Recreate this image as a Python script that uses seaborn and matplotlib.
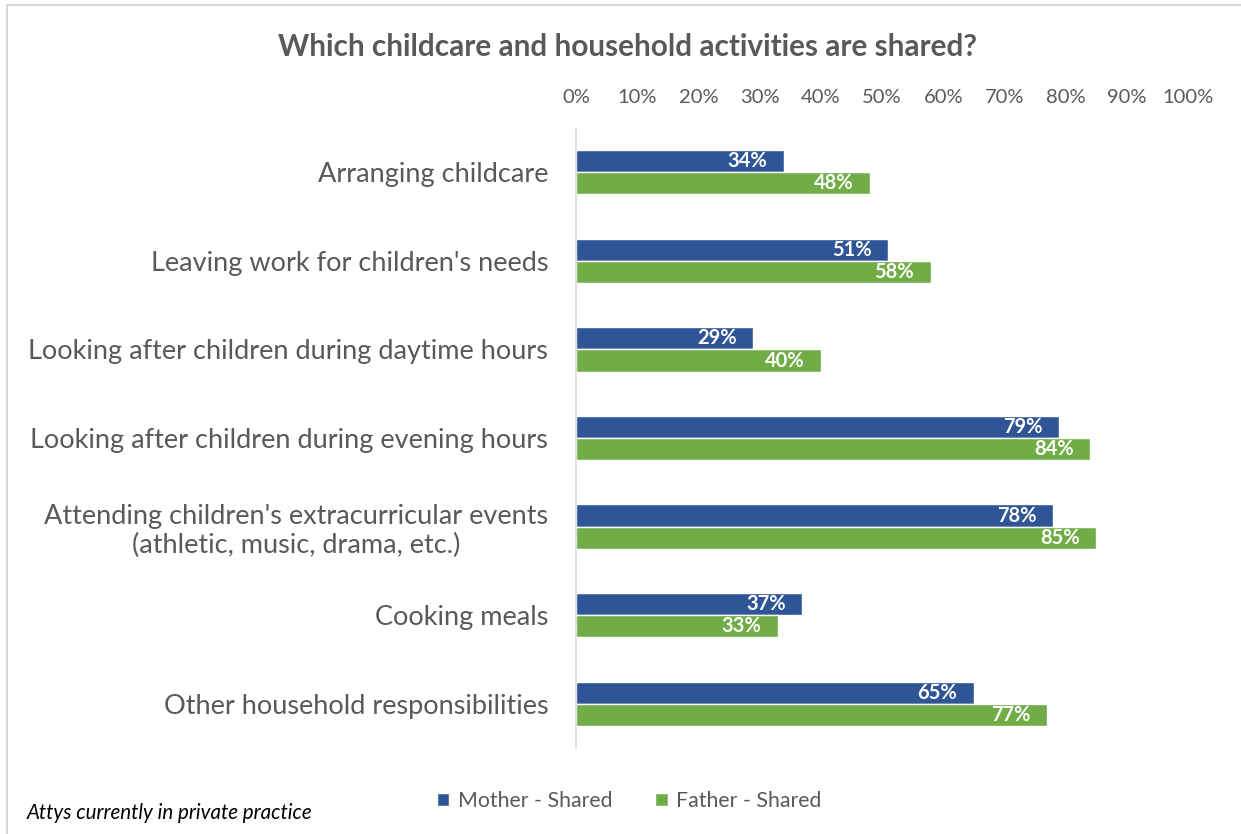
import matplotlib
matplotlib.use("Agg")
import matplotlib.pyplot as plt
from matplotlib.patches import Rectangle
import seaborn as sns
import pandas as pd

activities = [
    "Arranging childcare",
    "Leaving work for children's needs",
    "Looking after children during daytime hours",
    "Looking after children during evening hours",
    "Attending children's extracurricular events\n(athletic, music, drama, etc.)",
    "Cooking meals",
    "Other household responsibilities",
]
mother_shared = [34, 51, 29, 79, 78, 37, 65]
father_shared = [48, 58, 40, 84, 85, 33, 77]
series_names = ["Mother - Shared", "Father - Shared"]
tick_values = [0, 10, 20, 30, 40, 50, 60, 70, 80, 90, 100]

df = pd.DataFrame({
    "activity": activities * 2,
    "value": mother_shared + father_shared,
    "series": [series_names[0]] * len(activities) + [series_names[1]] * len(activities),
})

sns.set_theme(style="white")
plt.rcParams["font.family"] = ["Lato", "DejaVu Sans"]

GRAY = "#595959"
BLUE = "#2F5597"
GREEN = "#70AD47"

fig = plt.figure(figsize=(12.41, 8.34), dpi=100)
ax = fig.add_axes([576 / 1241, 1 - 748 / 834, (1188 - 576) / 1241, (748 - 128) / 834])

sns.barplot(data=df, y="activity", x="value", hue="series", orient="h",
            palette=[BLUE, GREEN], width=0.5, dodge=True, ax=ax,
            saturation=1, legend=True)

for container in ax.containers:
    labels = [f"{v:.0f}%" for v in container.datavalues]
    ax.bar_label(container, labels=labels, label_type="edge", padding=-12,
                 color="white", fontweight="bold", fontsize=14.5)
    for txt in ax.texts[-len(labels):]:
        txt.set_ha("right")

ax.set_xlim(0, 100)
ax.set_ylim(6.5, -0.5)
ax.set_xticks(tick_values)
ax.set_xticklabels([f"{t}%" for t in tick_values])
ax.xaxis.tick_top()
ax.tick_params(axis="x", length=0, pad=16, labelsize=14.5, labelcolor=GRAY)
ax.tick_params(axis="y", length=0, pad=20, labelsize=19.5, labelcolor=GRAY)
ax.set_xlabel("")
ax.set_ylabel("")
for side in ["top", "right", "bottom"]:
    ax.spines[side].set_visible(False)
ax.spines["left"].set_color("#D9D9D9")
ax.spines["left"].set_linewidth(1.2)
for lbl in ax.get_yticklabels():
    lbl.set_multialignment("center")

handles, lbls = ax.get_legend_handles_labels()
ax.legend_.remove()
fig.legend(handles, lbls, loc="center", bbox_to_anchor=(629 / 1241, 1 - 801 / 834),
           ncol=2, frameon=False, fontsize=15.3, labelcolor=GRAY,
           handlelength=0.6, handleheight=0.6, handletextpad=0.4, columnspacing=2.0)

fig.text(627 / 1241, 1 - 47 / 834, "Which childcare and household activities are shared?",
         ha="center", va="center", fontsize=21.4, fontweight="bold", color=GRAY)
fig.text(27 / 1241, 1 - 813 / 834, "Attys currently in private practice",
         ha="left", va="center", fontsize=14.8, style="italic", color="black")

# chart frame
fig.add_artist(Rectangle((7 / 1241, -0.1), 1.2, 1 - 5 / 834 + 0.1,
                         transform=fig.transFigure, fill=False,
                         edgecolor="#D9D9D9", linewidth=1.5))

fig.savefig("out.png", dpi=100)
